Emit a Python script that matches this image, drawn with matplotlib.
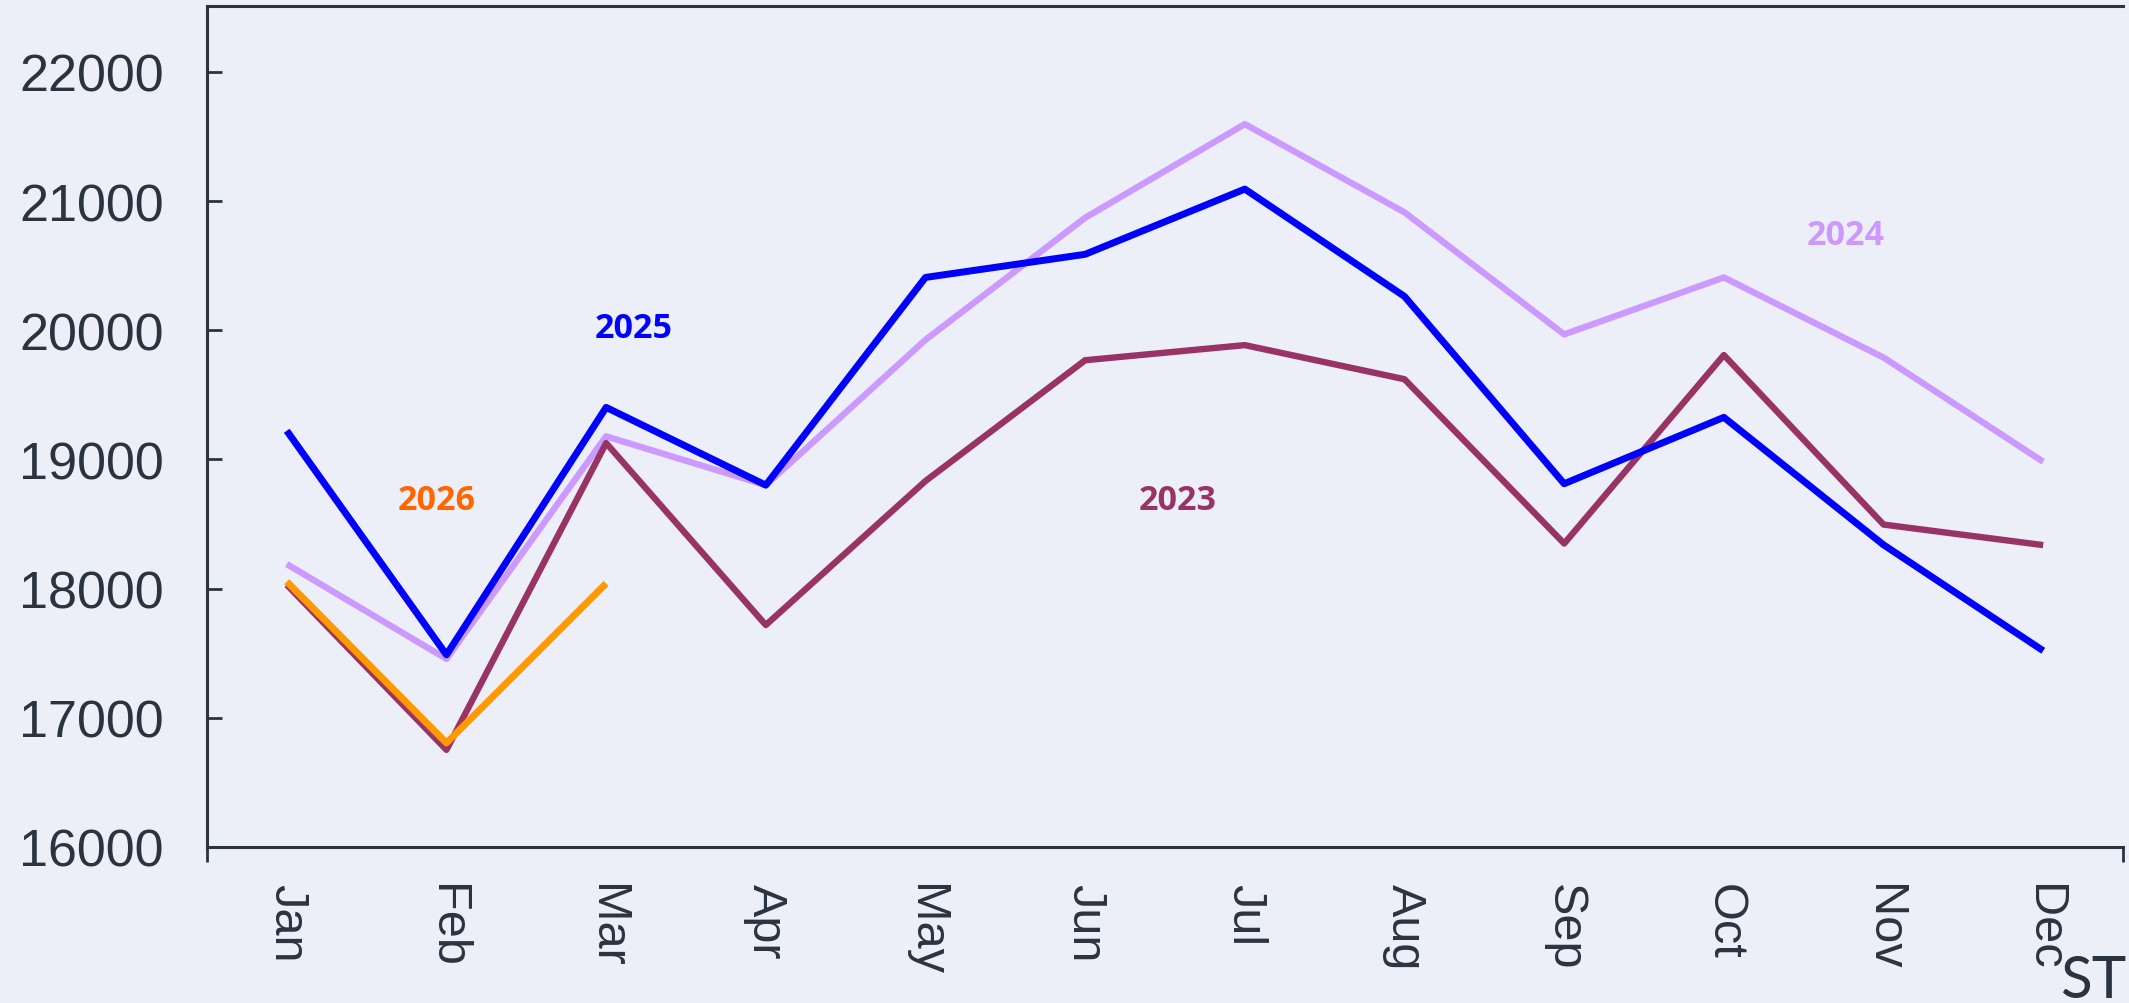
import numpy as np
import matplotlib.pyplot as plt
from matplotlib.ticker import FixedLocator

# Datos
months = ['Jan', 'Feb', 'Mar', 'Apr', 'May', 'Jun', 'Jul', 'Aug', 'Sep', 'Oct', 'Nov', 'Dec']
y2023 = [18030, 16752, 19127, 17718, 18833, 19768, 19885, 19621, 18349, 19808, 18496, 18337]
y2024 = [18190, 17456, 19179, 18801, 19926, 20871, 21596, 20913, 19968, 20409, 19789, 18982]
y2025 = [19222, 17488, 19403, 18801, 20409, 20588, 21093, 20262, 18812, 19326, 18339, 17519]
y2026 = [18054, 16805, 18040]

bg = '#ECEFF8'
ink = '#2B3340'

fig = plt.figure(figsize=(21.29, 10.04), dpi=100, facecolor=bg)
ax = fig.add_axes([0.0972, 0.1554, 0.9000, 0.8376], facecolor=bg)

x = np.arange(len(months))
ax.plot(x, y2024, color='#CC99FF', lw=4.6, solid_capstyle='butt')
ax.plot(x, y2023, color='#993366', lw=4.6, solid_capstyle='butt')
ax.plot(x, y2025, color='#0000FF', lw=5.0, solid_capstyle='butt')
ax.plot(x[:len(y2026)], y2026, color='#FF9900', lw=5.0, solid_capstyle='butt')

# Etiquetas de cada serie
lab = dict(fontsize=24.5, fontweight='bold', family='Open Sans', ha='center', va='center')
ax.text(2.17, 20017, '2025', color='#0000FF', **lab)
ax.text(0.94, 18686, '2026', color='#FF6600', **lab)
ax.text(5.58, 18686, '2023', color='#993366', **lab)
ax.text(9.76, 20737, '2024', color='#CC99FF', **lab)

ax.set_xlim(-0.5, 11.5)
ax.set_ylim(16000, 22510)

# Eje x: marcas en los bordes, etiquetas centradas
ax.xaxis.set_major_locator(FixedLocator([-0.5, 11.5]))
ax.xaxis.set_minor_locator(FixedLocator(x))
ax.set_xticklabels([], minor=False)
ax.set_xticklabels(months, minor=True)
ax.tick_params(axis='x', which='major', direction='out', length=10.8, width=2, color=ink)
ax.tick_params(axis='x', which='minor', length=0, pad=26, labelsize=35,
               labelrotation=-90, labelcolor=ink)
for t in ax.get_xticklabels(minor=True):
    t.set_family('Liberation Sans')

ax.set_yticks(np.arange(16000, 22001, 1000))
ax.tick_params(axis='y', direction='in', length=10.8, width=2, color=ink,
               pad=31, labelsize=37.5, labelcolor=ink)
for t in ax.get_yticklabels():
    t.set_family('Liberation Sans')

for s in ['left', 'bottom', 'top']:
    ax.spines[s].set_color(ink)
    ax.spines[s].set_linewidth(2.2)
ax.spines['right'].set_visible(False)

fig.text(0.9676, 0.006, 'ST', family='Lato', fontsize=42, color=ink,
         ha='left', va='baseline')

fig.savefig('out.png', dpi=100, facecolor=bg)
